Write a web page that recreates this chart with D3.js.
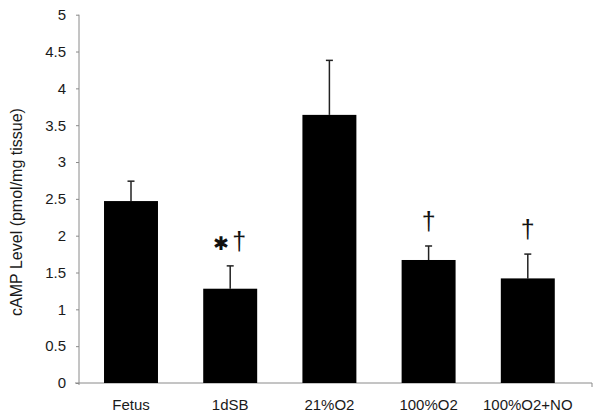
<!DOCTYPE html>
<html>
<head>
<meta charset="utf-8">
<script src="https://cdn.jsdelivr.net/npm/d3@7"></script>
<style>
  html, body { margin: 0; padding: 0; background: #fff; }
  text { font-family: "Liberation Sans", Arial, Helvetica, sans-serif; }
</style>
</head>
<body>
<svg id="chart" width="602" height="420"></svg>
<script>
const categories = ["Fetus", "1dSB", "21%O2", "100%O2", "100%O2+NO"];
const means = [2.47, 1.28, 3.64, 1.67, 1.42];
const errors = [0.27, 0.31, 0.74, 0.19, 0.33];
const asteriskMarks = [false, true, false, false, false];
const daggerMarks = [false, true, false, true, true];
const yTicks = [0, 0.5, 1, 1.5, 2, 2.5, 3, 3.5, 4, 4.5, 5];
const yTitle = "cAMP Level (pmol/mg tissue)";

const svg = d3.select("#chart");
const axisColor = "#8a8a8a";
const textColor = "#1a1a1a";

const y = d3.scaleLinear().domain([0, 5]).range([383, 14.7]);
const x = d3.scaleBand().domain(categories).range([81.4, 577.4])
  .paddingInner(0.456).paddingOuter(0.228);

const axisLeftX = 79;
const axisRightX = 592;

// Y axis
const yAxis = d3.axisLeft(y).tickValues(yTicks).tickSize(3).tickPadding(10)
  .tickFormat(d => String(d));
const gy = svg.append("g").attr("transform", `translate(${axisLeftX},0)`).call(yAxis);
gy.select(".domain").attr("stroke", axisColor).attr("d", `M0,${y(5)}V${y(0) + 2}`);
gy.selectAll(".tick line").attr("stroke", axisColor);
gy.selectAll(".tick text").attr("fill", textColor).attr("font-size", 15)
  .style("font-family", "'Liberation Sans', Arial, sans-serif");

// X axis line
svg.append("line")
  .attr("x1", axisLeftX - 4).attr("x2", axisRightX)
  .attr("y1", y(0)).attr("y2", y(0))
  .attr("stroke", axisColor).attr("stroke-width", 1);
svg.append("line")
  .attr("x1", axisRightX).attr("x2", axisRightX)
  .attr("y1", y(0)).attr("y2", y(0) + 4)
  .attr("stroke", axisColor).attr("stroke-width", 1);

// X labels
svg.append("g").selectAll("text").data(categories).join("text")
  .attr("x", d => x(d) + x.bandwidth() / 2)
  .attr("y", 410)
  .attr("text-anchor", "middle")
  .attr("font-size", 15)
  .attr("fill", textColor)
  .text(d => d);

// Y title
svg.append("text")
  .attr("transform", `translate(22,${212}) rotate(-90)`)
  .attr("text-anchor", "middle")
  .attr("font-size", 16)
  .attr("fill", textColor)
  .text(yTitle);

const data = categories.map((c, i) => ({ c, m: means[i], e: errors[i], ast: asteriskMarks[i], dag: daggerMarks[i] }));

// Error bars
const eb = svg.append("g");
eb.selectAll("line.v").data(data).join("line").attr("class", "v")
  .attr("x1", d => x(d.c) + x.bandwidth() / 2)
  .attr("x2", d => x(d.c) + x.bandwidth() / 2)
  .attr("y1", d => y(d.m))
  .attr("y2", d => y(d.m + d.e))
  .attr("stroke", "#222").attr("stroke-width", 1.5);
eb.selectAll("line.cap").data(data).join("line").attr("class", "cap")
  .attr("x1", d => x(d.c) + x.bandwidth() / 2 - 3.5)
  .attr("x2", d => x(d.c) + x.bandwidth() / 2 + 3.5)
  .attr("y1", d => y(d.m + d.e))
  .attr("y2", d => y(d.m + d.e))
  .attr("stroke", "#222").attr("stroke-width", 1.5);

// Bars
svg.append("g").selectAll("rect").data(data).join("rect")
  .attr("x", d => x(d.c))
  .attr("y", d => y(d.m))
  .attr("width", x.bandwidth())
  .attr("height", d => y(0) - y(d.m))
  .attr("fill", "#000");

// Significance marks
const marks = svg.append("g");
marks.selectAll("text.dag").data(data.filter(d => d.dag)).join("text").attr("class", "dag")
  .attr("x", d => x(d.c) + x.bandwidth() / 2 + (d.ast ? 9 : 0))
  .attr("y", d => y(d.m + d.e) - 16)
  .attr("text-anchor", "middle")
  .attr("font-size", 25)
  .attr("fill", "#111")
  .text("†");
marks.selectAll("text.ast").data(data.filter(d => d.ast)).join("text").attr("class", "ast")
  .attr("x", d => x(d.c) + x.bandwidth() / 2 - 9)
  .attr("y", d => y(d.m + d.e) - 16)
  .attr("text-anchor", "middle")
  .attr("font-size", 19)
  .attr("fill", "#111")
  .style("font-family", "'DejaVu Sans', sans-serif")
  .text("✱");
</script>
</body>
</html>
